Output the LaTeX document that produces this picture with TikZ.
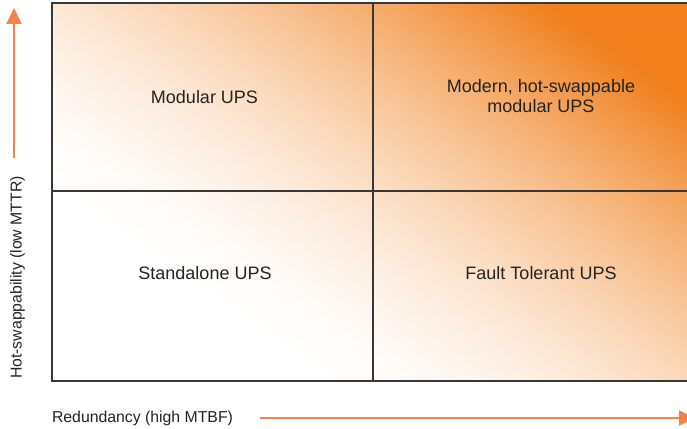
\documentclass[tikz,border=0pt]{standalone}
\usepackage{fontspec}
\setmainfont{Liberation Sans}
\usetikzlibrary{arrows.meta}
\definecolor{upsorange}{RGB}{240,127,28}
\definecolor{axisorange}{RGB}{240,132,74}
\definecolor{gridline}{RGB}{55,55,55}
\definecolor{labeltext}{RGB}{35,35,35}

% ramp tints, eased so the pale end stays light for longer
\colorlet{rampA}{upsorange!3.6!white}
\colorlet{rampB}{upsorange!10.9!white}
\colorlet{rampC}{upsorange!20.8!white}
\colorlet{rampD}{upsorange!33!white}
\colorlet{rampE}{upsorange!47.1!white}
\colorlet{rampF}{upsorange!63.1!white}
\colorlet{rampG}{upsorange!80.8!white}
\pgfdeclarehorizontalshading{upsramp}{100bp}{%
  color(0bp)=(white); color(25bp)=(white);
  color(31.25bp)=(rampA); color(37.5bp)=(rampB); color(43.75bp)=(rampC);
  color(50bp)=(rampD); color(56.25bp)=(rampE); color(62.5bp)=(rampF);
  color(68.75bp)=(rampG); color(75bp)=(upsorange); color(100bp)=(upsorange)}

\begin{document}
\begin{tikzpicture}[x=1pt,y=1pt,
  celllabel/.style={font=\fontsize{18}{20}\selectfont, text=labeltext, align=center},
  axislabel/.style={font=\fontsize{15.8}{18}\selectfont, text=labeltext},
  axisarrow/.style={draw=axisorange, line width=2pt, -{Triangle[length=16pt,width=15pt]}},
  gridrule/.style={draw=gridline, line width=1.6pt}]
\useasboundingbox (0,0) rectangle (687,428);

% corners of the matrix and the crossing of its dividers
\coordinate (bl) at (52,47);
\coordinate (tr) at (709,425);
\coordinate (mid) at (373,237);

% diagonal white-to-orange fill of the matrix
\begin{scope}
  \clip (bl) rectangle (tr);
  \fill[white] (bl) rectangle (tr);
  \begin{scope}[transform canvas={shift={(380.5,236)}, rotate=55}]
    \shade[shading=upsramp] (-184,-600) rectangle (250,600);
    \fill[upsorange] (249.5,-600) rectangle (700,600);
  \end{scope}
\end{scope}

% frame and dividers
\draw[gridrule] (bl) rectangle (tr);
\draw[gridrule] (mid |- bl) -- (mid |- tr);
\draw[gridrule] (mid -| bl) -- (mid -| tr);

% quadrant labels
\node[celllabel] (modular) at (204.5,331) {Modular UPS};
\node[celllabel] (modern) at (541,331.5) {Modern, hot-swappable\\modular UPS};
\node[celllabel] (standalone) at (205,155) {Standalone UPS};
\node[celllabel] (fault) at (541,155) {Fault Tolerant UPS};

% axes
\coordinate (vstart) at (14,270);
\coordinate (vend) at (14,420);
\draw[axisarrow] (vstart) -- (vend);
\coordinate (hstart) at (260,10);
\coordinate (hend) at (695,10);
\draw[axisarrow] (hstart) -- (hend);

\node[axislabel, rotate=90] (yaxis) at (17.5,150.5) {Hot-swappability (low MTTR)};
\node[axislabel] (xaxis) at (142.5,9.5) {Redundancy (high MTBF)};
\end{tikzpicture}
\end{document}
